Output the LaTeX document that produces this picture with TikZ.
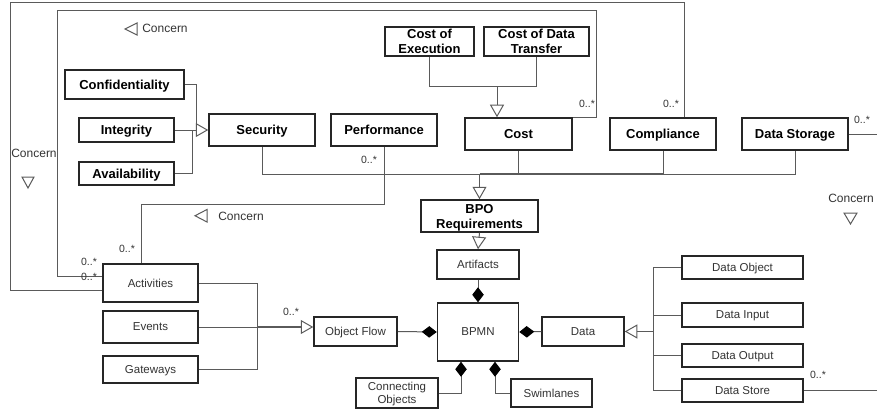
\documentclass[tikz,border=0pt]{standalone}
\usepackage{fontspec}
\setmainfont{Liberation Sans}
\usetikzlibrary{arrows.meta}
\definecolor{ln}{HTML}{5A5A5A}
\definecolor{bx}{HTML}{262626}
\definecolor{tx}{HTML}{333333}
\tikzset{
 box/.style={draw=bx, line width=1.5pt, fill=white, inner sep=1pt, align=center, text=tx, text depth=0pt, font=\fontsize{11.5}{13.5}\selectfont},
 bbox/.style={box, text=black, font=\fontsize{13}{15}\selectfont\bfseries},
 conn/.style={draw=ln, line width=1pt},
 gen/.style={conn, -{Triangle[open, length=12.5pt, width=14pt, line width=1pt]}},
 compo/.style={conn, -{Diamond[length=15pt, width=11.5pt, color=black]}},
 mult/.style={font=\fontsize{10.5}{12}\selectfont, text=tx, inner sep=0pt},
 conc/.style={font=\fontsize{12}{14}\selectfont, text=tx, inner sep=0pt},
 tri/.style={draw=ln, line width=1pt, fill=white}
}
\begin{document}
\begin{tikzpicture}[x=1pt,y=-1pt]
\useasboundingbox (0,0) rectangle (877,409);
% boxes
\node[bbox, minimum width=119pt, minimum height=29pt] (conf) at (124.5,84.5) {Confidentiality};
\node[bbox, minimum width=95pt, minimum height=24pt] (integ) at (126.5,130) {Integrity};
\node[bbox, minimum width=95pt, minimum height=23pt] (avail) at (126.5,173.5) {Availability};
\node[bbox, minimum width=106pt, minimum height=32pt] (sec) at (262,130) {Security};
\node[bbox, minimum width=106pt, minimum height=32pt] (perf) at (384,130) {Performance};
\node[bbox, minimum width=89pt, minimum height=29pt] (coe) at (429.5,41.5) {Cost of\\Execution};
\node[bbox, minimum width=105pt, minimum height=29pt] (codt) at (536.5,41.5) {Cost of Data\\Transfer};
\node[bbox, minimum width=107pt, minimum height=32pt] (cost) at (518.5,134) {Cost};
\node[bbox, minimum width=106pt, minimum height=32pt] (compl) at (663,134) {Compliance};
\node[bbox, minimum width=106pt, minimum height=32pt] (dstor) at (795,134) {Data Storage};
\node[bbox, minimum width=117pt, minimum height=32pt] (bpo) at (479.5,216) {BPO\\Requirements};
\node[box, minimum width=82pt, minimum height=29pt] (art) at (478,264.5) {Artifacts};
\node[box, minimum width=81pt, minimum height=58pt] (bpmn) at (478,332) {BPMN};
\node[box, minimum width=83pt, minimum height=29pt] (oflow) at (355.5,331.5) {Object Flow};
\node[box, minimum width=82pt, minimum height=29pt] (data) at (583,331.5) {Data};
\node[box, minimum width=95pt, minimum height=38pt] (act) at (150.5,283) {Activities};
\node[box, minimum width=95pt, minimum height=32pt] (evt) at (150.5,327) {Events};
\node[box, minimum width=95pt, minimum height=27pt] (gate) at (150.5,369.5) {Gateways};
\node[box, minimum width=82pt, minimum height=30pt] (cobj) at (397,393) {Connecting\\Objects};
\node[box, minimum width=81pt, minimum height=28pt] (swim) at (551.5,393) {Swimlanes};
\node[box, minimum width=121pt, minimum height=23pt] (dobj) at (742.5,267.5) {Data Object};
\node[box, minimum width=121pt, minimum height=24pt] (dinp) at (742.5,315) {Data Input};
\node[box, minimum width=121pt, minimum height=23pt] (dout) at (742.5,355.5) {Data Output};
\node[box, minimum width=121pt, minimum height=23pt] (dsto) at (742.5,390.5) {Data Store};
% security generalisation
\coordinate (sj) at (196,130);
\draw[conn] (conf.east) -| (sj);
\draw[conn] (avail.east) -| (192.5,130) -- (sj);
\draw[conn] (integ.east) -- (sj);
\draw[gen] (sj) -- (sec.west);
% cost generalisation
\coordinate (cj) at (497,87);
\draw[conn] (coe.south) |- (cj);
\draw[conn] (codt.south) |- (cj);
\draw[gen] (cj) -- (cj |- cost.north);
% requirements to BPO
\coordinate (bj) at (479.5,174);
\draw[conn] (sec.south) |- (bj);
\draw[conn] (cost.south) |- (bj);
\draw[conn] (compl.south) |- (bj);
\draw[conn] (dstor.south) |- (bj);
\draw[conn, line width=1.8pt] (bj) -- (bj -| compl.south);
\draw[gen, line width=1.8pt] (bj) -- (bpo.north);
\draw[gen] (bpo.south) -- (art.north);
% concern loops
\draw[conn] (cost.north east) -| (596,11) -| (57,276) -- (act.west |- 0,276);
\draw[conn] ([xshift=21pt]compl.north) |- (10,3) |- (act.west |- 0,290);
\draw[conn] (perf.south) -- (perf.south |- 0,204) -| ([xshift=-9.5pt]act.north);
\draw[conn] (dstor.east) -- (877,134);
\draw[conn] (dsto.east) -- (877,390.5);
% BPMN composition
\draw[compo] (art.south) -- (bpmn.north);
\draw[compo] (oflow.east) -- (bpmn.west);
\draw[compo] (data.west) -- (bpmn.east);
\draw[compo] (cobj.east) -| ([xshift=-17pt]bpmn.south);
\draw[compo] (swim.west) -| ([xshift=17pt]bpmn.south);
% data generalisation
\coordinate (dj) at (653,331.5);
\draw[conn] (dobj.west) -| (dj);
\draw[conn] (dsto.west) -| (dj);
\draw[conn] (dinp.west) -- (dinp.west -| dj);
\draw[conn] (dout.west) -- (dout.west -| dj);
\draw[gen, line width=1.8pt] (dj) -- (data.east);
% object flow generalisation
\coordinate (oj) at (257,327);
\draw[conn] (act.east) -| (oj);
\draw[conn] (gate.east) -| (oj);
\draw[conn] (evt.east) -- (oj);
\draw[gen, line width=1.8pt] (oj) -- (oj -| oflow.west);
% multiplicities
\node[mult] (m1) at (587,104) {0..*};
\node[mult] (m2) at (671,104) {0..*};
\node[mult] (m3) at (862,120) {0..*};
\node[mult] (m4) at (369,160) {0..*};
\node[mult] (m5) at (127,249) {0..*};
\node[mult] (m6) at (89,262) {0..*};
\node[mult] (m7) at (89,277) {0..*};
\node[mult] (m8) at (291,312) {0..*};
\node[mult] (m9) at (818,375) {0..*};
% concern labels
\node[conc] (c1) at (165,28) {Concern};
\draw[tri] (137,23) -- (137,35) -- (125,29) -- cycle;
\node[conc] (c2) at (34,153) {Concern};
\draw[tri] (22,177) -- (34,177) -- (28,188) -- cycle;
\node[conc] (c3) at (241,216) {Concern};
\draw[tri] (207,209.5) -- (207,222) -- (195,215.75) -- cycle;
\node[conc] (c4) at (851,198) {Concern};
\draw[tri] (844,213) -- (857,213) -- (850.5,224) -- cycle;
\end{tikzpicture}
\end{document}
